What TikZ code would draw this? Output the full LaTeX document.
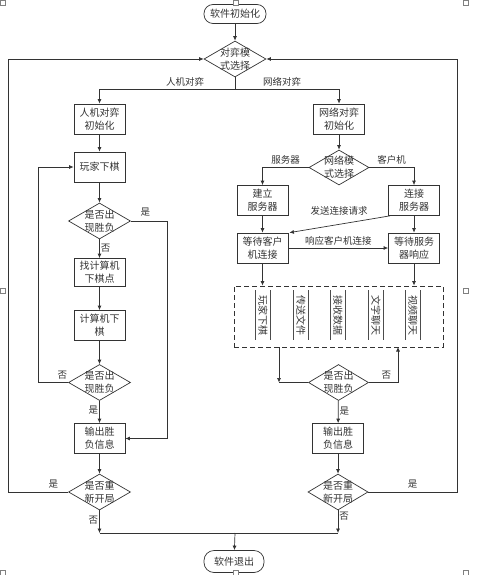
\documentclass[tikz,border=0pt]{standalone}
\usepackage{fontspec}
\newfontfamily\cjk{Noto Sans CJK SC}
\usetikzlibrary{arrows.meta, positioning, shapes.geometric, calc}
\definecolor{lineg}{HTML}{333333}

\tikzset{
  base/.style={draw=lineg, line width=0.7pt, text=black!80, font=\cjk\fontsize{10}{13}\selectfont, align=center},
  term/.style={base, rounded corners=9pt, minimum width=62pt, minimum height=19pt, inner sep=0pt},
  proc/.style={base, minimum width=51pt, minimum height=30pt, inner sep=0pt},
  decide/.style={base, diamond, aspect=1.72, minimum width=62pt, minimum height=36pt, inner sep=-2pt},
  lbl/.style={text=black!80, font=\cjk\fontsize{9.5}{11}\selectfont, inner sep=1pt},
  arr/.style={draw=lineg, line width=0.7pt, -{Latex[length=4.5pt,width=4pt]}},
  link/.style={draw=lineg, line width=0.7pt},
  sidebar/.style={draw=black!70, line width=1.3pt},
  sidebox/.style={rotate=-90, minimum width=49pt, minimum height=14pt, inner sep=0pt,
    text=black!80, font=\cjk\fontsize{10}{12}\selectfont,
    append after command={(\tikzlastnode.north west) edge[sidebar] (\tikzlastnode.north east)
      (\tikzlastnode.south west) edge[sidebar] (\tikzlastnode.south east)}},
  handle/.style={draw=black!50, fill=white, line width=0.4pt, minimum size=5pt, inner sep=0pt}
}

\begin{document}
\begin{tikzpicture}[x=1pt, y=-1pt]
    \useasboundingbox (0,0) rectangle (484,575);

    % Start and mode selection
    \node[term] (start) at (235,14) {软件初始化};
    \node[decide] (mode) at (235,59) {对弈模\\式选择};
    \coordinate (split) at (235,89);
    \node[lbl] at (185,82) {人机对弈};
    \node[lbl] at (282,82) {网络对弈};

    % Man-machine branch
    \node[proc] (pvcinit) at (99.5,119) {人机对弈\\初始化};
    \node[proc] (play) at (99.5,167) {玩家下棋};
    \node[decide] (judgeA) at (99.5,221) {是否出\\现胜负};
    \node[proc, minimum height=28pt] (findpt) at (99.5,272.5) {找计算机\\下棋点};
    \node[proc] (compmove) at (99.5,325.5) {计算机下\\棋};
    \node[decide] (judgeB) at (99.5,382.5) {是否出\\现胜负};
    \node[proc] (outA) at (99.5,438.5) {输出胜\\负信息};
    \node[decide] (againA) at (99.5,492) {是否重\\新开局};

    % Network branch
    \node[proc] (netinit) at (339,119) {网络对弈\\初始化};
    \node[decide, minimum width=60pt, minimum height=35pt] (netmode) at (339,167.5) {网络模\\式选择};
    \node[proc] (build) at (262.5,200.5) {建立\\服务器};
    \node[proc] (connect) at (414,200.5) {连接\\服务器};
    \node[proc] (waitc) at (262.5,248) {等待客户\\机连接};
    \node[proc] (waits) at (414,248) {等待服务\\器响应};

    % Network functions
    \node[draw=lineg, line width=0.9pt, dash pattern=on 5pt off 3pt, minimum width=209pt, minimum height=61pt, inner sep=0pt] (netbox) at (338.5,316.5) {};
    \node[sidebox] (fplay) at (263,315) {玩家下棋};
    \node[sidebox] (fsend) at (301,315) {传送文件};
    \node[sidebox] (frecv) at (338,315) {接收数据};
    \node[sidebox] (ftext) at (376,315) {文字聊天};
    \node[sidebox] (fvideo) at (413,315) {视频聊天};

    \node[decide, minimum width=60pt] (judgeC) at (338.5,382.5) {是否出\\现胜负};
    \node[proc] (outB) at (338,438.5) {输出胜\\负信息};
    \node[decide, minimum width=60pt] (againB) at (338,492) {是否重\\新开局};

    % End
    \node[term, minimum width=60pt, minimum height=22pt, rounded corners=10pt] (stop) at (234,561.5) {软件退出};
    \coordinate (joinA) at (99.5,533);
    \coordinate (joinB) at (338,533);
    \coordinate (joinM) at (235,533);

    % Connectors, top part
    \draw[arr] (start) -- (mode);
    \draw[arr] (mode.south) -- (split) -| (pvcinit.north);
    \draw[arr] (split) -| (netinit.north);

    % Connectors, man-machine
    \draw[arr] (pvcinit) -- (play);
    \draw[arr] (play) -- (judgeA);
    \draw[arr] (judgeA) -- (findpt) node[lbl, pos=0.45, right] {否};
    \draw[arr] (judgeA.east) -- ++(36,0) node[lbl, pos=0.4, above=3pt] {是} |- (outA.east);
    \draw[arr] (findpt) -- (compmove);
    \draw[arr] (compmove) -- (judgeB);
    \draw[arr] (judgeB.west) -- ++(-29.5,0) node[lbl, pos=0.2, above=2pt] {否} |- (play.west);
    \draw[arr] (judgeB) -- (outA) node[lbl, pos=0.4, left] {是};
    \draw[arr] (outA) -- (againA);
    \draw[arr] (againA.west) -- ++(-59.5,0) node[lbl, pos=0.25, above=2pt] {是} |- (mode.west);
    \draw[arr] (againA.south) -- (joinA) node[lbl, pos=0.45, left] {否};

    % Connectors, network
    \draw[arr] (netinit) -- (netmode);
    \draw[arr] (netmode.west) -| (build.north) node[lbl, pos=0.25, above=2pt] {服务器};
    \draw[arr] (netmode.east) -| (connect.north) node[lbl, pos=0.25, above=2pt] {客户机};
    \draw[arr] (build) -- (waitc);
    \draw[arr] (connect) -- (waits);
    \draw[arr] ([xshift=-24pt]connect.south) -- ([xshift=1pt]waitc.north east);
    \node[lbl] (sendlbl) at (339,211) {发送连接请求};
    \draw[arr] (waitc.east) -- (waits.west) node[lbl, midway, above=1pt] {响应客户机连接};
    \draw[arr] (waitc.south) -- (waitc.south |- netbox.north);
    \draw[arr] (waits.south) -- (waits.south |- netbox.north);
    \coordinate (jin) at (279,382.5);
    \coordinate (jout) at (398,347);
    \draw[arr] (jin |- netbox.south) -- (jin);
    \draw[link] (jin) -- (judgeC.west);
    \draw[arr] (judgeC.east) -| (jout) node[lbl, pos=0.3, above=2pt] {否};
    \draw[arr] (judgeC) -- (outB) node[lbl, pos=0.45, right] {是};
    \draw[arr] (outB) -- (againB);
    \draw[arr] (againB.east) -| (457,59) node[lbl, pos=0.25, above=2pt] {是} -- (mode.east);
    \draw[arr] (againB.south) -- (joinB) node[lbl, pos=0.25, right] {否};

    % Exit
    \draw[link] (joinA) -- (joinB);
    \draw[arr] (joinM) -- (stop);

    % Canvas handles
    \node[handle] (h1) at (2.5,2.5) {};
    \node[handle] (h2) at (235.5,2.5) {};
    \node[handle] (h3) at (466,2.5) {};
    \node[handle] (h4) at (2.5,291) {};
    \node[handle] (h5) at (466,291) {};
    \node[handle] (h6) at (2.5,572.5) {};
    \node[handle] (h7) at (235.5,572.5) {};
    \node[handle] (h8) at (466,572.5) {};
\end{tikzpicture}
\end{document}
